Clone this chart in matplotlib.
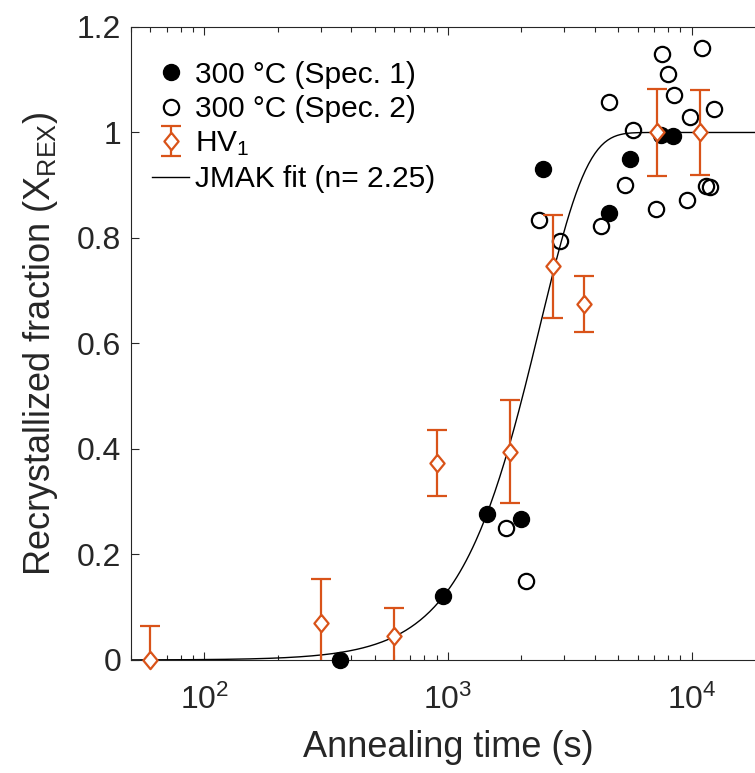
import numpy as np
import matplotlib
matplotlib.use("Agg")
import matplotlib.pyplot as plt
from matplotlib.ticker import FuncFormatter, LogLocator

plt.rcParams['font.family'] = ['Liberation Sans', 'DejaVu Sans']
plt.rcParams['mathtext.fontset'] = 'custom'
plt.rcParams['mathtext.rm'] = 'Liberation Sans'
plt.rcParams['mathtext.it'] = 'Liberation Sans:italic'

# 300 °C specimen 1 (filled)
t_spec1 = [360, 955, 1440, 1985, 2450, 4570, 5570, 7520, 8400]
x_spec1 = [0.0, 0.122, 0.277, 0.267, 0.931, 0.848, 0.950, 0.996, 0.993]

# 300 °C specimen 2 (open)
t_spec2 = [1727, 2100, 2373, 2877, 4239, 4571, 5319, 5736, 7128, 7583,
           8009, 8496, 9555, 9886, 11076, 11486, 11930, 12370]
x_spec2 = [0.250, 0.150, 0.834, 0.795, 0.823, 1.057, 0.901, 1.004, 0.855, 1.149,
           1.111, 1.071, 0.872, 1.030, 1.161, 0.899, 0.897, 1.044]

# hardness derived fraction HV1
t_hv = [60, 300, 600, 900, 1800, 2700, 3600, 7200, 10800]
x_hv = [0.0, 0.070, 0.046, 0.373, 0.395, 0.746, 0.675, 1.0, 1.0]
err_hv = [0.064, 0.083, 0.053, 0.063, 0.097, 0.097, 0.053, 0.083, 0.081]

# JMAK fit parameters
n_jmak = 2.25
k_jmak = 2.52e-8

orange = '#D95319'
grey = '#262626'
diamond = [(0, 1), (0.82, 0), (0, -1), (-0.82, 0), (0, 1)]

fig = plt.figure(figsize=(7.55, 7.73), dpi=100)
ax = fig.add_axes([0.1735, 0.1462, 0.8397, 0.8189])

t_fit = np.logspace(np.log10(50), np.log10(2e4), 400)
x_fit = 1 - np.exp(-k_jmak * t_fit ** n_jmak)

h1, = ax.plot(t_spec1, x_spec1, 'o', color='k', markersize=11.5,
              label='300 °C (Spec. 1)', zorder=3, clip_on=False)
h2, = ax.plot(t_spec2, x_spec2, 'o', markerfacecolor='none', markeredgecolor='k',
              markeredgewidth=1.6, markersize=11, label='300 °C (Spec. 2)', zorder=3)
h3 = ax.errorbar(t_hv, x_hv, yerr=err_hv, fmt='none', ecolor=orange,
                 elinewidth=1.6, capsize=7.5, capthick=1.6, label='HV$_1$', zorder=4)
hm, = ax.plot(t_hv, x_hv, linestyle='none', marker=diamond, markerfacecolor='white',
              markeredgecolor=orange, markeredgewidth=1.6, markersize=12.5,
              zorder=5, clip_on=False)
h4, = ax.plot(t_fit, x_fit, '-', color='k', linewidth=1.0,
              label='JMAK fit (n= 2.25)', zorder=2)

ax.set_xscale('log')
ax.set_xlim(50, 2e4)
ax.set_ylim(0, 1.2)
ax.set_yticks([0, 0.2, 0.4, 0.6, 0.8, 1.0, 1.2])
ax.yaxis.set_major_formatter(FuncFormatter(lambda v, p: '%g' % v))
ax.xaxis.set_minor_locator(LogLocator(base=10, subs=np.arange(2, 10)))

ax.set_xlabel('Annealing time (s)', fontsize=26, color=grey, labelpad=10)
ax.set_ylabel('Recrystallized fraction (X$_{\\mathrm{REX}}$)', fontsize=26,
              color=grey, labelpad=12)

ax.tick_params(axis='both', which='both', direction='in', top=True, right=False,
               colors=grey, labelsize=23)
ax.tick_params(which='major', length=5.5, width=0.8)
ax.tick_params(which='minor', length=3.5, width=0.8)
ax.tick_params(axis='x', which='major', pad=18)
ax.tick_params(axis='y', which='major', pad=7)
ax.tick_params(axis='y', which='minor', left=False)
for s in ax.spines.values():
    s.set_color(grey)
    s.set_linewidth(0.8)

ax.legend([h1, h2, (h3, hm), h4],
          ['300 °C (Spec. 1)', '300 °C (Spec. 2)', 'HV$_1$', 'JMAK fit (n= 2.25)'],
          loc='upper left', frameon=False, fontsize=21.5, handlelength=1.25,
          handletextpad=0.2, labelspacing=0.22, borderaxespad=0.3,
          bbox_to_anchor=(0.0, 0.98))

fig.savefig('out.png', dpi=100)
